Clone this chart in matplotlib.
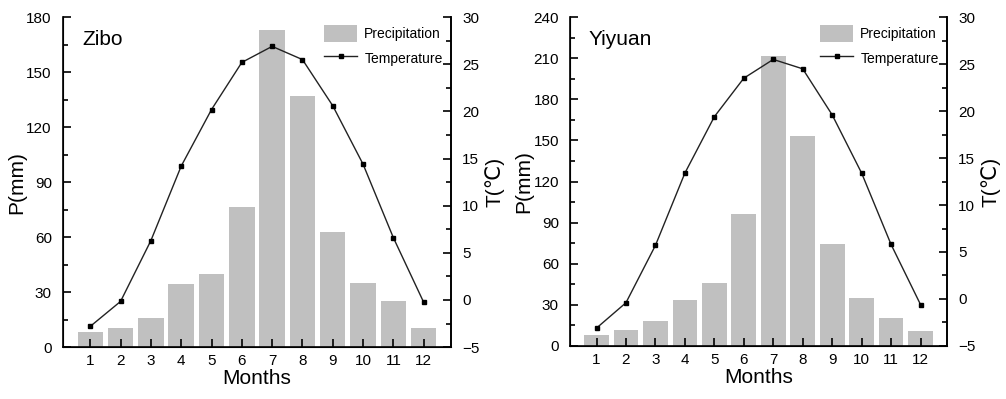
import matplotlib
matplotlib.use("Agg")
import matplotlib.pyplot as plt
from matplotlib.ticker import MultipleLocator

plt.rcParams["font.family"] = ["Liberation Sans", "DejaVu Sans"]

months = list(range(1, 13))

zibo_precip = [8.0, 10.7, 16.0, 34.7, 40.0, 76.2, 172.9, 136.9, 62.7, 35.1, 25.1, 10.7]
zibo_temp = [-2.8, -0.15, 6.3, 14.2, 20.2, 25.2, 26.9, 25.5, 20.6, 14.4, 6.6, -0.25]

yiyuan_precip = [8.0, 11.7, 18.3, 33.3, 45.8, 96.4, 211.3, 153.1, 74.5, 34.8, 20.4, 10.7]
yiyuan_temp = [-3.1, -0.4, 5.7, 13.4, 19.4, 23.5, 25.5, 24.5, 19.6, 13.4, 5.8, -0.6]

fig = plt.figure(figsize=(10.06, 3.99), dpi=100)


def draw_panel(rect, name, precip, temp, pmax, pstep):
    ax = fig.add_axes(rect)
    ax.bar(months, precip, width=0.84, color="#c0c0c0", label="Precipitation", zorder=1)
    ax.set_xlim(0.1, 12.9)
    ax.set_ylim(0, pmax)
    ax.set_xticks(months)
    ax.yaxis.set_major_locator(MultipleLocator(pstep))
    ax.yaxis.set_minor_locator(MultipleLocator(pstep / 2))
    ax.tick_params(axis="both", direction="in", labelsize=11, length=6, width=1.2, pad=8)
    ax.tick_params(axis="x", pad=5)
    ax.tick_params(axis="y", which="minor", direction="in", length=3.5, width=1.2)
    ax.spines["top"].set_visible(False)
    for s in ("left", "bottom", "right"):
        ax.spines[s].set_linewidth(1.2)
    ax.set_xlabel("Months", fontsize=15, labelpad=1)
    ax.set_ylabel("P(mm)", fontsize=15, labelpad=0)
    ax.text(0.05, 0.96, name, transform=ax.transAxes, fontsize=15, va="top", ha="left")

    ax2 = ax.twinx()
    ax2.plot(months, temp, color="#222222", lw=1, marker="s", markersize=3.5,
             markerfacecolor="black", markeredgecolor="black", label="Temperature")
    ax2.set_ylim(-5, 30)
    ax2.yaxis.set_major_locator(MultipleLocator(5))
    ax2.yaxis.set_minor_locator(MultipleLocator(2.5))
    ax2.tick_params(axis="y", direction="in", labelsize=11, length=6, width=1.2, pad=8)
    ax2.tick_params(axis="y", which="minor", direction="in", length=3.5, width=1.2)
    ax2.spines["top"].set_visible(False)
    ax2.spines["right"].set_linewidth(1.2)
    ax2.set_ylabel("T(℃)", fontsize=15, labelpad=4)

    h1, l1 = ax.get_legend_handles_labels()
    h2, l2 = ax2.get_legend_handles_labels()
    ax2.legend(h1 + h2, l1 + l2, loc="upper right", frameon=False, fontsize=10,
               handlelength=2.4, handleheight=1.4, handletextpad=0.5,
               borderaxespad=0.2, labelspacing=0.6)


draw_panel([0.0626, 0.130, 0.3857, 0.827], "Zibo", zibo_precip, zibo_temp, 180, 30)
draw_panel([0.5666, 0.133, 0.3748, 0.824], "Yiyuan", yiyuan_precip, yiyuan_temp, 240, 30)

fig.savefig("out.png", dpi=100)
